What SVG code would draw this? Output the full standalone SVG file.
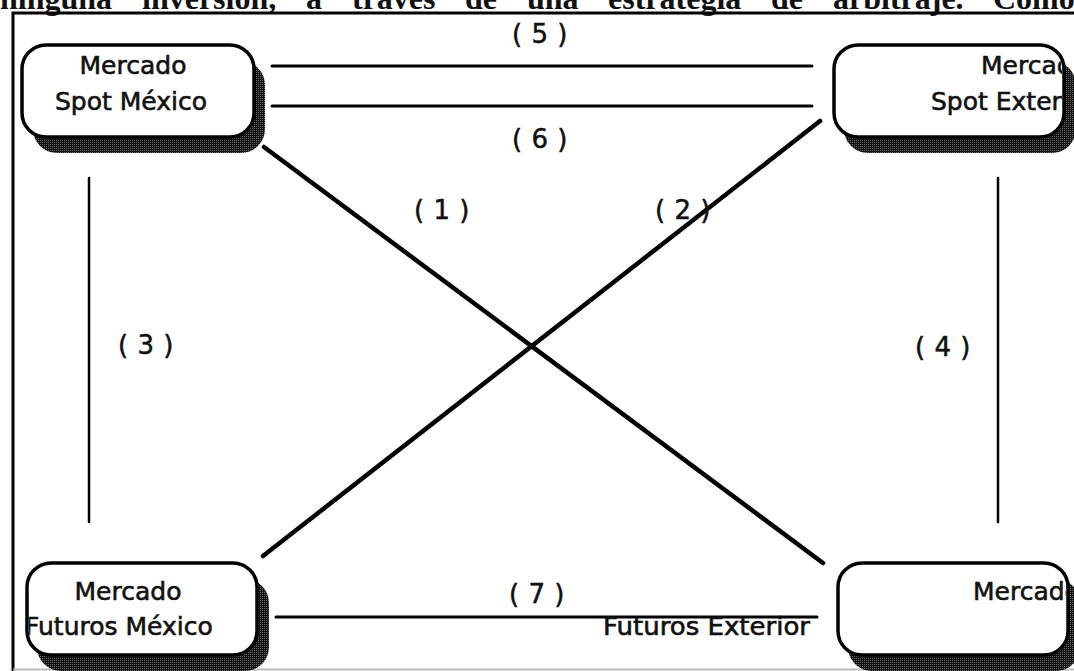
<svg xmlns="http://www.w3.org/2000/svg" width="1074" height="671" viewBox="0 0 1074 671">
  <defs>
    <!-- dithered drop shadow fill -->
    <pattern id="halftone" width="2" height="2" patternUnits="userSpaceOnUse">
      <rect width="2" height="2" fill="#111"/>
      <rect width="1" height="1" fill="#6a6a6a"/>
    </pattern>
    <clipPath id="clip-spot-ext"><rect x="836" y="47" width="226" height="88" rx="22"/></clipPath>
    <clipPath id="clip-fut-mex"><rect x="29" y="565" width="226" height="88" rx="22"/></clipPath>
    <clipPath id="clip-fut-ext"><rect x="840" y="565" width="226" height="88" rx="22"/></clipPath>
  </defs>
  <style>
    .body { font-family: "Liberation Serif", "Times New Roman", serif; font-weight: bold; font-size: 32px; fill: #111; }
    .shadow { fill: url(#halftone); }
    .box { fill: #fff; stroke: #000; stroke-width: 3.5; }
    .name { font-family: "DejaVu Sans", Verdana, sans-serif; font-size: 25px; fill: #111; stroke: #111; stroke-width: 0.6; }
    .tag { font-family: "DejaVu Sans", Verdana, sans-serif; font-size: 26px; letter-spacing: 0.5px; fill: #111; stroke: #111; stroke-width: 0.5; text-anchor: middle; }
    .link { stroke: #000; fill: none; stroke-linecap: round; }
  </style>

  <rect width="1074" height="671" fill="#fff"/>

  <!-- running text line above the figure -->
  <text class="body" y="9">
    <tspan x="0">ninguna</tspan><tspan x="142">inversión,</tspan><tspan x="306">a</tspan><tspan x="352">través</tspan><tspan x="465">de</tspan><tspan x="527">una</tspan><tspan x="608">estrategia</tspan><tspan x="771">de</tspan><tspan x="833">arbitraje.</tspan><tspan x="993">Como</tspan>
  </text>

  <!-- figure frame -->
  <g id="frame" fill="none">
    <path d="M13 671 V13 H1074" stroke="#000" stroke-width="3"/>
    <line x1="13" y1="669.5" x2="1074" y2="669.5" stroke="#bbb" stroke-width="2"/>
  </g>

  <!-- connectors -->
  <g id="connectors">
    <line class="link" x1="272" y1="66" x2="812" y2="66" stroke-width="3"/>
    <line class="link" x1="272" y1="106" x2="812" y2="106" stroke-width="3"/>
    <line class="link" x1="264" y1="147" x2="823" y2="563" stroke-width="4.5"/>
    <line class="link" x1="820" y1="121" x2="263" y2="556" stroke-width="4.5"/>
    <line class="link" x1="89" y1="178" x2="89" y2="522" stroke-width="2.5"/>
    <line class="link" x1="998" y1="178" x2="998" y2="522" stroke-width="2.5"/>
    <line class="link" x1="276" y1="617" x2="817" y2="617" stroke-width="3"/>
    <text class="tag" x="540" y="43">( 5 )</text>
    <text class="tag" x="540" y="148">( 6 )</text>
    <text class="tag" x="442" y="219">( 1 )</text>
    <text class="tag" x="683" y="219">( 2 )</text>
    <text class="tag" x="146" y="354">( 3 )</text>
    <text class="tag" x="943" y="356">( 4 )</text>
    <text class="tag" x="537" y="603">( 7 )</text>
  </g>

  <!-- market nodes -->
  <g id="spot-mexico">
    <rect class="shadow" x="33" y="61" width="232" height="92" rx="24"/>
    <rect class="box" x="22" y="45" width="232" height="92" rx="24"/>
    <text class="name" x="133" y="74" text-anchor="middle">Mercado</text>
    <text class="name" x="131" y="110" text-anchor="middle">Spot México</text>
  </g>

  <g id="spot-exterior">
    <rect class="shadow" x="844" y="61" width="232" height="92" rx="24"/>
    <rect class="box" x="834" y="45" width="230" height="92" rx="24"/>
    <g clip-path="url(#clip-spot-ext)">
      <text class="name" x="981" y="74">Mercado</text>
      <text class="name" x="931" y="110">Spot Exterior</text>
    </g>
  </g>

  <g id="futuros-mexico">
    <rect class="shadow" x="37" y="579" width="232" height="92" rx="24"/>
    <rect class="box" x="27" y="563" width="230" height="92" rx="24"/>
    <g clip-path="url(#clip-fut-mex)">
      <text class="name" x="128" y="600" text-anchor="middle">Mercado</text>
      <text class="name" x="25" y="635">Futuros México</text>
    </g>
  </g>

  <g id="futuros-exterior">
    <rect class="shadow" x="848" y="579" width="232" height="92" rx="24"/>
    <rect class="box" x="838" y="563" width="230" height="92" rx="24"/>
    <g clip-path="url(#clip-fut-ext)">
      <text class="name" x="973" y="600">Mercado</text>
    </g>
    <text class="name" x="603" y="635" textLength="207" lengthAdjust="spacingAndGlyphs">Futuros Exterior</text>
  </g>
</svg>
